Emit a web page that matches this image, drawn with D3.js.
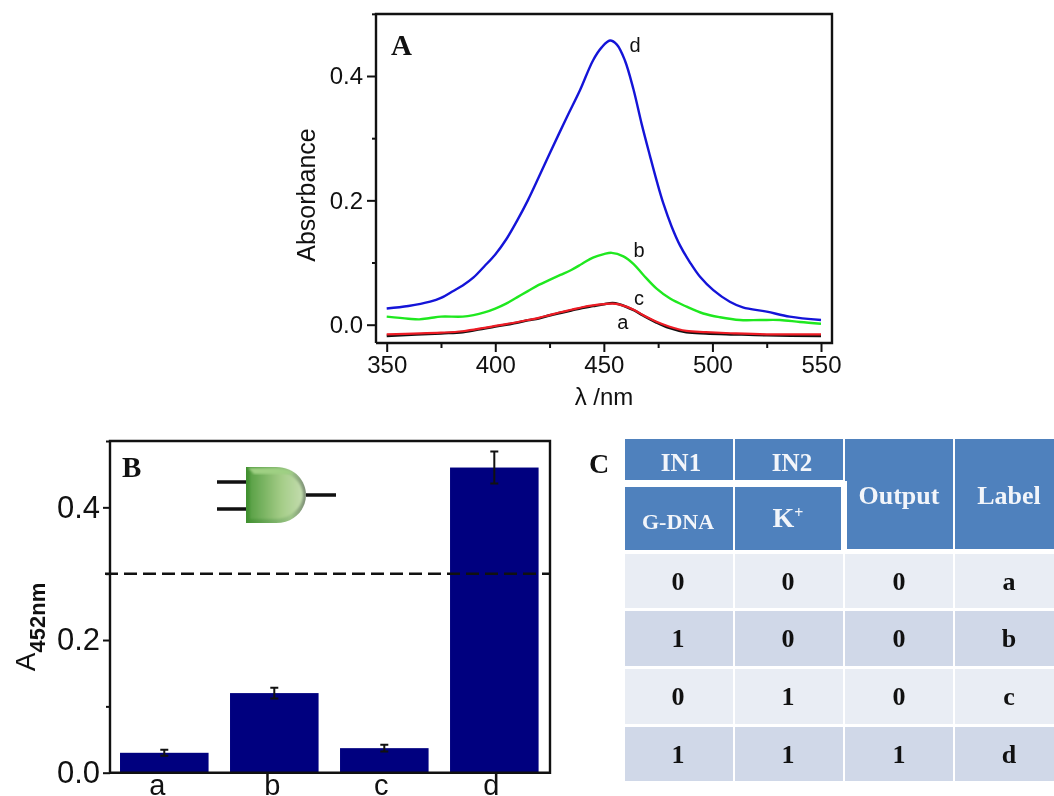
<!DOCTYPE html>
<html>
<head>
<meta charset="utf-8">
<script src="https://cdn.jsdelivr.net/npm/d3@7"></script>
<style>
  html, body { margin: 0; padding: 0; background: #fff; overflow: hidden; }
  svg { filter: blur(.4px); }
  text { font-family: "Liberation Sans", Arial, sans-serif; fill: #111; }
  .serif { font-family: "Liberation Serif", "Times New Roman", serif; font-weight: bold; }
</style>
</head>
<body>
<div id="chart"></div>
<script>
// panel A spectra, each curve
var waveD = [350,360,370,375,380,385,390,395,400,405,410,415,420,425,433,439,445,449,452.8,456,459.7,463.6,467.4,471.2,474.6,477.4,481.2,485,489.7,494.3,500.4,508,514,525,535.6,550];
var absD  = [.026,.03,.037,.043,.053,.063,.076,.094,.113,.137,.167,.2,.237,.275,.334,.377,.425,.446,.457,.4505,.425,.379,.323,.272,.228,.195,.158,.128,.1,.077,.0556,.037,.028,.021,.013,.0075];
var waveB = [350,360,365,370,375,385,390,395,400,405,410,415,420,425,430,435,440,445,450,453.6,459,463.6,468.2,474.3,480.5,488.1,495.8,503.5,512.7,521.9,531.1,540.3,550];
var absB  = [.013,.0096,.0086,.0107,.013,.013,.0155,.0198,.026,.034,.044,.054,.064,.072,.08,.088,.098,.108,.1135,.1156,.11,.098,.08,.058,.042,.029,.018,.012,.0075,.0075,.0075,.0043,.0016];
var waveC = [350,375,385,395,400,405,410,415,420,425,430,435,440,445,450,454,457,464,468,474,480,488,497,510,525,550];
var absC  = [-.0155,-.0128,-.0105,-.005,-.002,.001,.004,.0075,.011,.0155,.02,.024,.028,.031,.033,.034,.0326,.0235,.0155,.005,-.003,-.01,-.012,-.014,-.0155,-.0155];
var absA  = [-.018,-.014,-.012,-.006,-.003,0,.003,.007,.01,.015,.019,.023,.027,.03,.033,.035,.033,.023,.015,.004,-.005,-.012,-.014,-.0155,-.017,-.018];

// panel B bars
var labels = ["a","b","c","d"];
var barValues = [.03,.12,.037,.46];
var barErrors = [.0045,.008,.005,.024];
var threshold = .3;

// panel C table
var tableRows = [["0","0","0","a"],["1","0","0","b"],["0","1","0","c"],["1","1","1","d"]];

var svg = d3.select("#chart").append("svg")
  .attr("width", 1054).attr("height", 796);

var defs = svg.append("defs");
var gateRim = defs.append("linearGradient").attr("id", "gateRim");
gateRim.append("stop").attr("offset", "0").attr("stop-color", "#3f8f2e");
gateRim.append("stop").attr("offset", ".75").attr("stop-color", "#9cc487");
gateRim.append("stop").attr("offset", "1").attr("stop-color", "#7f8f78");
var gateFill = defs.append("linearGradient").attr("id", "gateFill");
gateFill.append("stop").attr("offset", "0").attr("stop-color", "#5aa146");
gateFill.append("stop").attr("offset", ".6").attr("stop-color", "#a5cd88");
gateFill.append("stop").attr("offset", "1").attr("stop-color", "#c3dcae");
defs.append("filter").attr("id", "soft")
  .append("feGaussianBlur").attr("stdDeviation", 1);

function styleAxis(g, size) {
  g.select(".domain").remove();
  g.selectAll("line").attr("stroke", "#111").attr("stroke-width", 2);
  g.selectAll("text").attr("font-size", size).attr("fill", "#111");
}

function frame(x0, x1, y0, y1) {
  svg.append("path")
    .attr("d", "M" + x0 + "," + y1 + "V" + y0 + "H" + x1 + "V" + y1 + "H" + x0)
    .attr("fill", "none").attr("stroke", "#111").attr("stroke-width", 2.4);
}

// ---- panel A
var xA = d3.scaleLinear().domain([350,550]).range([386.7,821]);
var yA = d3.scaleLinear().domain([0,.4]).range([324.7,76]);

var lineOf = d3.line().curve(d3.curveCatmullRom);
function drawCurve(xs, ys, color, w) {
  svg.append("path")
    .attr("d", lineOf(xs.map(function(v, i) { return [xA(v), yA(ys[i])]; })))
    .attr("fill", "none").attr("stroke", color).attr("stroke-width", w);
}
drawCurve(waveC, absA, "#111", 2.6);
drawCurve(waveC, absC, "#ee1c25", 2.2);
drawCurve(waveB, absB, "#1fe81f", 2.4);
drawCurve(waveD, absD, "#1414d8", 2.4);

frame(376, 832, 14, 343);

svg.append("g").attr("transform", "translate(376,0)")
  .call(d3.axisLeft(yA).tickValues([0,.2,.4]).tickFormat(d3.format(".1f")).tickSize(9).tickPadding(4))
  .call(styleAxis, 24);
svg.append("g").attr("transform", "translate(376,0)")
  .call(d3.axisLeft(yA).tickValues([.1,.3,.5]).tickFormat("").tickSize(4))
  .call(styleAxis, 24);
svg.append("g").attr("transform", "translate(0,343)")
  .call(d3.axisBottom(xA).tickValues([350,400,450,500,550]).tickSize(9).tickPadding(4))
  .call(styleAxis, 24);
svg.append("g").attr("transform", "translate(0,343)")
  .call(d3.axisBottom(xA).tickValues([375,425,475,525]).tickFormat("").tickSize(5))
  .call(styleAxis, 24);

svg.append("text").attr("transform", "translate(315,195) rotate(-90)")
  .attr("text-anchor", "middle").attr("font-size", 25).text("Absorbance");
svg.append("text").attr("x", 604).attr("y", 405)
  .attr("text-anchor", "middle").attr("font-size", 24).text("λ /nm");

svg.append("text").attr("class", "serif").attr("x", 391).attr("y", 55)
  .attr("font-size", 29).text("A");

var curveNotes = [["d",635,51.7],["b",639,256.7],["c",639,305],["a",622.7,329]];
svg.selectAll(".note").data(curveNotes).enter().append("text")
  .attr("class", "note").attr("x", function(d) { return d[1]; })
  .attr("y", function(d) { return d[2]; })
  .attr("text-anchor", "middle").attr("font-size", 20)
  .text(function(d) { return d[0]; });

// ---- panel B
var xB = d3.scaleBand().domain(labels).range([110,548.6]).paddingInner(.195).paddingOuter(.091);
var yB = d3.scaleLinear().domain([0,.5]).range([772.7,441]);

svg.selectAll(".bar").data(barValues).enter().append("rect")
  .attr("class", "bar")
  .attr("x", function(d, i) { return xB(labels[i]); })
  .attr("y", function(d) { return yB(d); })
  .attr("width", xB.bandwidth())
  .attr("height", function(d) { return yB(0) - yB(d); })
  .attr("fill", "#00007f");

barValues.forEach(function(v, i) {
  var cx = xB(labels[i]) + xB.bandwidth() / 2;
  var top = yB(v + barErrors[i]), bot = yB(v - barErrors[i]);
  svg.append("path")
    .attr("d", "M" + cx + "," + top + "V" + bot + "M" + (cx-4) + "," + top + "H" + (cx+4) + "M" + (cx-4) + "," + bot + "H" + (cx+4))
    .attr("fill", "none").attr("stroke", "#111").attr("stroke-width", 2);
});

svg.append("line").attr("x1", 105).attr("x2", 550)
  .attr("y1", yB(threshold)).attr("y2", yB(threshold))
  .attr("stroke", "#111").attr("stroke-width", 2.4)
  .attr("stroke-dasharray", "13,6");

frame(110, 550, 441, 772.7);

svg.append("g").attr("transform", "translate(110,0)")
  .call(d3.axisLeft(yB).tickValues([0,.2,.4]).tickFormat(d3.format(".1f")).tickSize(7).tickPadding(3))
  .call(styleAxis, 31);
svg.append("g").attr("transform", "translate(110,0)")
  .call(d3.axisLeft(yB).tickValues([.1,.3,.5]).tickFormat("").tickSize(4))
  .call(styleAxis, 31);
svg.append("g").attr("transform", "translate(0,772.7)")
  .call(d3.axisBottom(xB).tickSize(0).tickPadding(0))
  .call(styleAxis, 29)
  .call(function(g) {
    // the letters sit a little left of the bar centres in the reference
    var shift = {a: -7, b: -2, c: -3, d: -3};
    g.selectAll("text").attr("dx", function(d) { return shift[d]; })
      .attr("dy", null).attr("y", 22);
  });

var yTitle = svg.append("text").attr("transform", "translate(35,627) rotate(-90)")
  .attr("text-anchor", "middle").attr("font-size", 28);
yTitle.append("tspan").text("A");
yTitle.append("tspan").attr("dy", 10).attr("font-size", 22).attr("font-weight", "bold").text("452nm");

svg.append("text").attr("class", "serif").attr("x", 122).attr("y", 477)
  .attr("font-size", 29).text("B");

// AND gate sketch
var gate = svg.append("g");
gate.append("path").attr("d", "M217,482H246M217,509H246M306,495H336")
  .attr("stroke", "#111").attr("stroke-width", 3.6).attr("fill", "none");
gate.append("path").attr("d", "M246,467H276C295,467 306,481 306,495C306,509 295,523 276,523H246Z")
  .attr("fill", "url(#gateRim)");
gate.append("path").attr("d", "M250,471H275C292,471 303,484 303,495C303,506 292,519 275,519H250Z")
  .attr("fill", "url(#gateFill)").attr("filter", "url(#soft)");
gate.append("path").attr("d", "M248,468H276C283,468 289,470 294,474H254Z")
  .attr("fill", "#9fd083").attr("filter", "url(#soft)");

// ---- panel C
var colX = [625,735,845,955];
var colW = [108,108,108,99];
var colText = [678,788,899,1009];
var rowY = [554,611,669,727];
var rowH = [54,55,55,54];
var headBlue = "#4f81bd";

function cell(x, y, w, h, fill) {
  svg.append("rect").attr("x", x).attr("y", y).attr("width", w).attr("height", h).attr("fill", fill);
}
function cellText(s, x, y, size, color) {
  return svg.append("text").attr("class", "serif").attr("x", x).attr("y", y)
    .attr("text-anchor", "middle").attr("font-size", size).style("fill", color).text(s);
}

cell(625, 439, 108, 41, headBlue);
cell(735, 439, 108, 41, headBlue);
cell(625, 487, 108, 63, headBlue);
cell(735, 487, 106, 63, headBlue);
svg.append("path").attr("d", "M845,439H953V549H847V481H845Z").attr("fill", headBlue);
cell(955, 439, 99, 110, headBlue);

cellText("IN1", 681, 471, 25, "#f2f5fa");
cellText("IN2", 792, 471, 25, "#f2f5fa");
cellText("G-DNA", 678, 529, 22, "#f2f5fa");
var kText = cellText("K", 788, 527, 28, "#f2f5fa");
kText.append("tspan").attr("dy", -9).attr("font-size", 16).text("+");
cellText("Output", 899, 504, 26, "#f2f5fa");
cellText("Label", 1009, 504, 26, "#f2f5fa");

tableRows.forEach(function(row, r) {
  row.forEach(function(s, c) {
    cell(colX[c], rowY[r], colW[c], rowH[r], r % 2 ? "#d0d8e8" : "#e9edf4");
    cellText(s, colText[c], rowY[r] + 36, 26, "#111");
  });
});

svg.append("text").attr("class", "serif").attr("x", 599).attr("y", 473)
  .attr("text-anchor", "middle").attr("font-size", 28).text("C");
</script>
</body>
</html>
